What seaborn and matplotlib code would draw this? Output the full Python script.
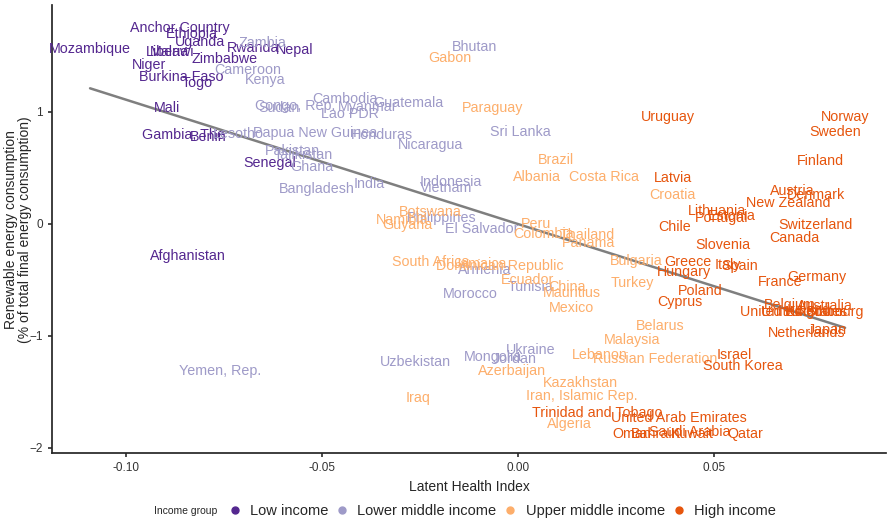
import pandas as pd
import numpy as np
import seaborn as sns
import matplotlib.pyplot as plt
from matplotlib.lines import Line2D

# country labels
countries = [
    "Anchor Country", "Ethiopia", "Uganda", "Rwanda", "Nepal", "Mozambique", "Liberia", "Malawi",
    "Zimbabwe", "Niger", "Burkina Faso", "Togo", "Mali", "Gambia, The", "Benin", "Senegal", "Afghanistan",
    "Zambia", "Cameroon", "Kenya", "Lesotho", "Papua New Guinea", "Pakistan", "Tajikistan", "Ghana",
    "Bangladesh", "Sudan", "Congo, Rep.", "Cambodia", "Myanmar", "Guatemala", "Lao PDR", "Honduras",
    "Nicaragua", "India", "Indonesia", "Vietnam", "Bhutan", "Sri Lanka", "Philippines", "El Salvador",
    "Armenia", "Tunisia", "Morocco", "Ukraine", "Mongolia", "Jordan", "Uzbekistan", "Yemen, Rep.",
    "Gabon", "Paraguay", "Brazil", "Albania", "Costa Rica", "Botswana", "Namibia", "Guyana", "Peru",
    "Colombia", "Thailand", "Panama", "South Africa", "Jamaica", "Dominican Republic", "Ecuador",
    "China", "Mauritius", "Mexico", "Bulgaria", "Turkey", "Croatia", "Belarus", "Malaysia", "Lebanon",
    "Russian Federation", "Kazakhstan", "Iran, Islamic Rep.", "Azerbaijan", "Iraq", "Algeria",
    "Uruguay", "Norway", "Sweden", "Finland", "Latvia", "Austria", "Denmark", "New Zealand", "Lithuania",
    "Estonia", "Portugal", "Chile", "Switzerland", "Canada", "Slovenia", "Greece", "Hungary", "Italy",
    "Spain", "France", "Germany", "Poland", "Cyprus", "United Kingdom", "Belgium", "United States",
    "Ireland", "Australia", "Luxembourg", "Netherlands", "Japan", "Israel", "South Korea",
    "Trinidad and Tobago", "United Arab Emirates", "Saudi Arabia", "Oman", "Bahrain", "Kuwait", "Qatar",
]
health = [
    -0.0862, -0.0832, -0.0811, -0.0676, -0.0569, -0.1092, -0.0895, -0.0883,
    -0.0750, -0.0941, -0.0860, -0.0819, -0.0895, -0.0855, -0.0790, -0.0635, -0.0842,
    -0.0651, -0.0691, -0.0645, -0.0714, -0.0518, -0.0577, -0.0548, -0.0526,
    -0.0513, -0.0610, -0.0569, -0.0441, -0.0383, -0.0281, -0.0429, -0.0347,
    -0.0224, -0.0380, -0.0173, -0.0184, -0.0110, 0.0005, -0.0194, -0.0092,
    -0.0084, 0.0031, -0.0122, 0.0033, -0.0064, -0.0008, -0.0263, -0.0760,
    -0.0173, -0.0064, 0.0097, 0.0048, 0.0219, -0.0224, -0.0296, -0.0283, 0.0046,
    0.0064, 0.0176, 0.0179, -0.0224, -0.0097, -0.0046, 0.0023,
    0.0125, 0.0138, 0.0135, 0.0301, 0.0291, 0.0393, 0.0362, 0.0291, 0.0209,
    0.0350, 0.0158, 0.0163, -0.0015, -0.0255, 0.0130,
    0.0383, 0.0834, 0.0809, 0.0770, 0.0395, 0.0699, 0.0760, 0.0689, 0.0508,
    0.0546, 0.0520, 0.0398, 0.0758, 0.0704, 0.0523, 0.0434, 0.0423, 0.0536,
    0.0564, 0.0668, 0.0763, 0.0464, 0.0413, 0.0696, 0.0694, 0.0730,
    0.0740, 0.0783, 0.0783, 0.0735, 0.0790, 0.0551, 0.0574,
    0.0202, 0.0411, 0.0439, 0.0291, 0.0350, 0.0444, 0.0579,
]
renewable = [
    1.75, 1.69, 1.62, 1.57, 1.55, 1.56, 1.53, 1.53,
    1.47, 1.42, 1.31, 1.26, 1.035, 0.79, 0.77, 0.54, -0.29,
    1.61, 1.37, 1.28, 0.80, 0.81, 0.65, 0.61, 0.51,
    0.31, 1.035, 1.05, 1.11, 1.04, 1.08, 0.98, 0.79,
    0.70, 0.35, 0.375, 0.32, 1.58, 0.82, 0.054, -0.045,
    -0.41, -0.57, -0.63, -1.125, -1.195, -1.21, -1.24, -1.32,
    1.48, 1.03, 0.57, 0.42, 0.42, 0.107, 0.036, -0.01, 0.0,
    -0.09, -0.10, -0.17, -0.34, -0.357, -0.375, -0.50,
    -0.57, -0.62, -0.75, -0.33, -0.53, 0.26, -0.91, -1.04, -1.17,
    -1.205, -1.42, -1.54, -1.32, -1.56, -1.79,
    0.95, 0.95, 0.82, 0.56, 0.41, 0.295, 0.26, 0.18, 0.116,
    0.07, 0.05, -0.03, -0.01, -0.13, -0.19, -0.34, -0.43, -0.37,
    -0.38, -0.52, -0.48, -0.60, -0.70, -0.79, -0.73, -0.79,
    -0.77, -0.74, -0.79, -0.98, -0.95, -1.17, -1.27,
    -1.69, -1.74, -1.86, -1.875, -1.875, -1.875, -1.88,
]
income = (["Low income"] * 17 + ["Lower middle income"] * 32
          + ["Upper middle income"] * 31 + ["High income"] * 40)

groups = ["Low income", "Lower middle income", "Upper middle income", "High income"]
colors = ["#54278F", "#9E9AC8", "#FDAE6B", "#E6550D"]

df = pd.DataFrame({"country": countries, "health": health,
                   "renewable": renewable, "income": income})
palette = dict(zip(groups, colors))

sns.set_theme(style="ticks")
plt.rcParams["font.family"] = ["Liberation Sans", "DejaVu Sans"]

fig = plt.figure(figsize=(8.88, 5.30), dpi=100)
ax = fig.add_axes([0.0586, 0.145, 0.9394, 0.845])

sns.regplot(data=df, x="health", y="renewable", scatter=False, ci=None,
            color="#7f7f7f", line_kws={"lw": 1.8}, ax=ax)

for _, r in df.iterrows():
    ax.text(r["health"], r["renewable"], r["country"], color=palette[r["income"]],
            fontsize=10.3, ha="center", va="center", clip_on=False)

ax.set_xlim(-0.1189, 0.0939)
ax.set_ylim(-2.05, 1.95)
ax.set_xticks([-0.10, -0.05, 0.0, 0.05])
ax.set_xticklabels(["-0.10", "-0.05", "0.00", "0.05"])
ax.set_yticks([-2, -1, 0, 1])
ax.tick_params(labelsize=8.5, colors="#333333", length=3)
ax.set_xlabel("Latent Health Index", fontsize=10)
ax.set_ylabel("Renewable energy consumption\n(% of total final energy consumption)",
              fontsize=10, linespacing=1.0)
ax.yaxis.set_label_coords(-0.024, 0.5)
sns.despine(ax=ax)

handles = [Line2D([], [], marker="o", ls="", color=c, markersize=5) for c in colors]
fig.legend(handles, groups, ncol=4, loc="center left", bbox_to_anchor=(0.256, 0.035),
           frameon=False, fontsize=10.5, handletextpad=0.55, columnspacing=0.45,
           handlelength=1.0, borderpad=0, borderaxespad=0)
fig.text(0.173, 0.035, "Income group", fontsize=7.5, va="center", ha="left")

fig.savefig("out.png", dpi=100)
